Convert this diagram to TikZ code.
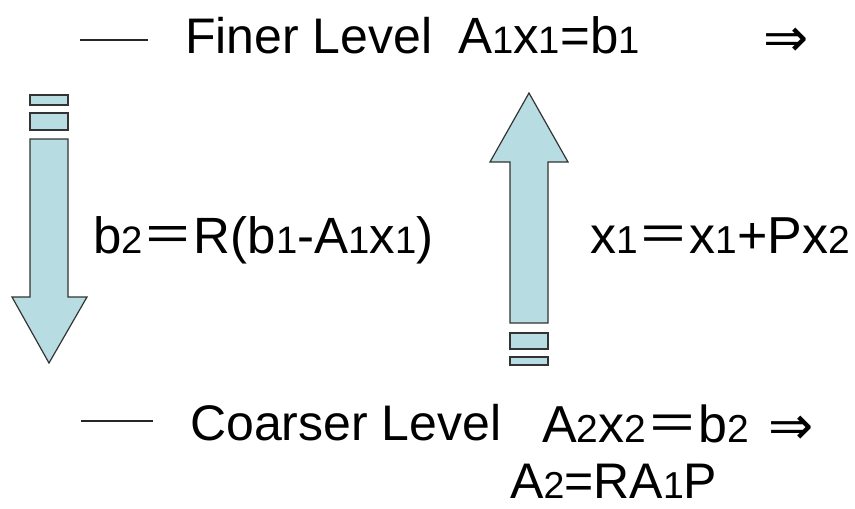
\documentclass[tikz,border=0pt]{standalone}
\usepackage{fontspec}
\setmainfont{Liberation Sans}
\newfontfamily\cjk{Noto Sans CJK SC}
\newfontfamily\symfont{DejaVu Sans}
\usetikzlibrary{positioning}

\definecolor{arrowfill}{RGB}{183,221,226}
\newcommand\dg[1]{\scalebox{0.75}{#1}}
\newcommand\weq{{\cjk ＝}}

\begin{document}
\begin{tikzpicture}[x=1pt, y=-1pt,
  lbl/.style={anchor=base west, inner sep=0pt,
    font=\fontsize{#1}{#1}\selectfont},
  impl/.style={anchor=center, inner sep=0pt,
    font=\fontsize{54}{54}\symfont},
  fatarrow/.style={draw=black!80, fill=arrowfill, line width=1.2pt,
    line join=miter},
  levelrule/.style={draw=black!85, line width=2pt},
]
\useasboundingbox (0,0) rectangle (855,509);

% finer level
\draw[levelrule] (80,40) -- (148,40);
\node[lbl=50] (finer)    at (185,53)  {Finer Level};
\node[lbl=51] (fineq)    at (458,53)  {A\dg{1}x\dg{1}=b\dg{1}};
\node[impl]   (finimp)   at (786,42)  {⇒};

% restriction (down)
\draw[fatarrow] (30,95) rectangle (68,105);
\draw[fatarrow] (30,113) rectangle (68,130);
\draw[fatarrow] (30,139) -- (68,139) -- (68,297) -- (87,297)
  -- (49,363) -- (12,297) -- (30,297) -- cycle;
\node[lbl=51] (restrict) at (93,253)
  {b\dg{2}\weq R(b\dg{1}-A\dg{1}x\dg{1})};

% prolongation (up)
\draw[fatarrow] (529,93) -- (568,162) -- (548,162) -- (548,323)
  -- (510,323) -- (510,162) -- (490,162) -- cycle;
\draw[fatarrow] (510,333) rectangle (548,349);
\draw[fatarrow] (510,357) rectangle (548,365);
\node[lbl=52] (prolong)  at (590,253) {x\dg{1}\weq x\dg{1}+Px\dg{2}};

% coarser level
\draw[levelrule] (81,421) -- (153,421);
\node[lbl=50] (coarser)  at (190,440) {Coarser Level};
\node[lbl=52] (coarseq)  at (542,442) {A\dg{2}x\dg{2}\weq b\dg{2}};
\node[impl]   (coarimp)  at (791,430) {⇒};
\node[lbl=50] (galerkin) at (510,498) {A\dg{2}=RA\dg{1}P};
\end{tikzpicture}
\end{document}
